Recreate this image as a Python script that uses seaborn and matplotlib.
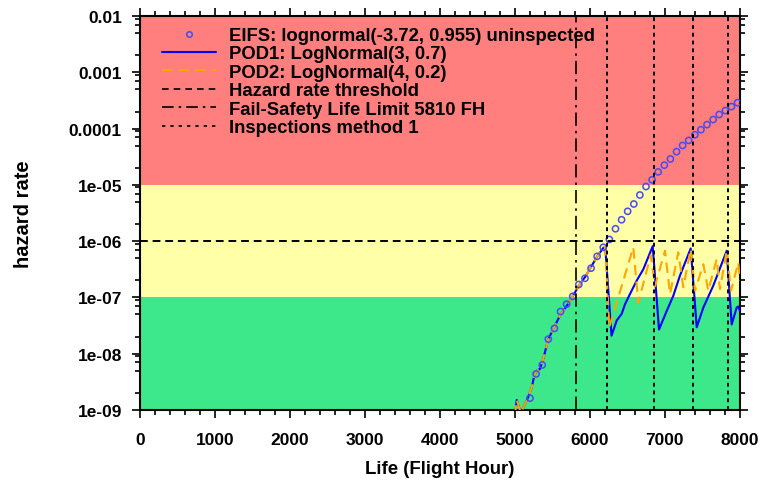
import numpy as np
import pandas as pd
import matplotlib
matplotlib.use("Agg")
import matplotlib.pyplot as plt
import seaborn as sns
from matplotlib.lines import Line2D
from matplotlib.ticker import LogLocator, FixedLocator, MultipleLocator

# ---- data ----
eifs_x = [5200, 5281, 5363, 5444, 5526, 5607, 5688, 5770, 5851, 5933, 6014, 6095, 6177,
          6258, 6340, 6421, 6502, 6584, 6665, 6747, 6828, 6909, 6991, 7072, 7154, 7235,
          7316, 7398, 7479, 7560, 7642, 7723, 7805, 7886, 7967]
eifs_log = [-8.79, -8.36, -8.20, -7.74, -7.55, -7.25, -7.12, -6.98, -6.77, -6.66, -6.48,
            -6.27, -6.11, -5.97, -5.78, -5.62, -5.47, -5.34, -5.18, -5.03, -4.91, -4.77,
            -4.65, -4.54, -4.41, -4.30, -4.21, -4.11, -4.02, -3.93, -3.84, -3.75, -3.68,
            -3.61, -3.54]

pod1_x = [5000, 5023, 5076, 5156, 5191, 5223, 5257, 5289, 5333, 5377, 5444, 5511, 5600,
          5689, 5777, 5867, 5933, 6013, 6097, 6177, 6203,
          6287, 6356, 6423, 6467, 6533, 6623, 6711, 6836,
          6920, 7023, 7111, 7200, 7343,
          7423, 7511, 7644, 7823,
          7889, 7956, 7977, 8000]
pod1_log = [-9.10, -8.82, -9.05, -8.83, -8.72, -8.60, -8.39, -8.30, -8.27, -8.09, -7.74,
            -7.56, -7.32, -7.15, -6.96, -6.76, -6.64, -6.46, -6.27, -6.12, -6.10,
            -7.68, -7.41, -7.29, -7.12, -6.94, -6.70, -6.50, -6.09,
            -7.57, -7.24, -6.97, -6.61, -6.13,
            -7.53, -7.18, -6.79, -6.17,
            -7.48, -7.18, -7.16, -7.24]

pod2_x = [5000, 5023, 5076, 5156, 5191, 5223, 5257, 5289, 5333, 5377, 5444, 5511, 5600,
          5689, 5777, 5867, 5933, 6013, 6097, 6177, 6203,
          6257, 6577, 6644, 6810, 6867, 7000, 7067, 7177, 7244, 7343, 7400, 7511, 7577,
          7689, 7733, 7823, 7880, 7977, 8000]
pod2_log = [-9.10, -8.82, -9.05, -8.83, -8.72, -8.60, -8.39, -8.30, -8.27, -8.09, -7.74,
            -7.56, -7.32, -7.15, -6.96, -6.76, -6.64, -6.46, -6.27, -6.12, -6.10,
            -7.53, -6.11, -7.09, -6.25, -6.80, -6.17, -6.94, -6.20, -6.82, -6.14, -6.88,
            -6.41, -6.88, -6.32, -6.85, -6.17, -6.88, -6.38, -6.70]

hazard_threshold = 1e-6
fail_safety_life = 5810
inspections = [6230, 6857, 7369, 7844]

zone_bounds = [1e-9, 1e-7, 1e-5, 1e-2]
zone_colors = ["#3CE88A", "#FFFFA8", "#FF7F7F"]

x_ticks = [0, 1000, 2000, 3000, 4000, 5000, 6000, 7000, 8000]
y_ticks = [1e-9, 1e-8, 1e-7, 1e-6, 1e-5, 1e-4, 1e-3, 1e-2]
y_ticklabels = ["1e-09", "1e-08", "1e-07", "1e-06", "1e-05", "0.0001", "0.001", "0.01"]

labels = ["EIFS: lognormal(-3.72, 0.955) uninspected",
          "POD1: LogNormal(3, 0.7)",
          "POD2: LogNormal(4, 0.2)",
          "Hazard rate threshold",
          "Fail-Safety Life Limit 5810 FH",
          "Inspections method 1"]

# ---- plotting ----
sns.set_theme(style="ticks")
plt.rcParams["font.family"] = ["Liberation Sans", "DejaVu Sans"]
plt.rcParams["font.weight"] = "bold"
plt.rcParams["text.color"] = "black"
plt.rcParams["axes.labelcolor"] = "black"
plt.rcParams["xtick.color"] = "black"
plt.rcParams["ytick.color"] = "black"

fig = plt.figure(figsize=(7.65, 4.81), dpi=100)
ax = fig.add_axes([140 / 765, 1 - 411 / 481, 600 / 765, 394 / 481])

for lo, hi, c in zip(zone_bounds[:-1], zone_bounds[1:], zone_colors):
    ax.axhspan(lo, hi, color=c, lw=0, zorder=0)

eifs_df = pd.DataFrame({"x": eifs_x, "y": 10.0 ** np.array(eifs_log)})
pod1_df = pd.DataFrame({"x": pod1_x, "y": 10.0 ** np.array(pod1_log)})
pod2_df = pd.DataFrame({"x": pod2_x, "y": 10.0 ** np.array(pod2_log)})

sns.lineplot(data=pod1_df, x="x", y="y", ax=ax, color="#0000FF", lw=1.5,
             sort=False, estimator=None, zorder=3)
sns.lineplot(data=pod2_df, x="x", y="y", ax=ax, color="#FFA500", lw=1.5,
             sort=False, estimator=None, zorder=4, dashes=False)
ax.lines[-1].set_dashes((5, 3))
sns.scatterplot(data=eifs_df, x="x", y="y", ax=ax, marker="o", s=20,
                facecolors="none", edgecolor="#4A4AF0", linewidth=1.1, zorder=5)

ax.axhline(hazard_threshold, color="black", lw=1.4, ls=(0, (4, 2.5)), zorder=6)
ax.axvline(fail_safety_life, color="black", lw=1.2, ls=(0, (8, 3, 1.5, 3)), zorder=6)
for t in inspections:
    ax.axvline(t, color="black", lw=1.4, ls=(0, (2, 2)), zorder=6)

ax.set_yscale("log")
ax.set_xlim(0, 8000)
ax.set_ylim(1e-9, 1e-2)
ax.xaxis.set_major_locator(FixedLocator(x_ticks))
ax.xaxis.set_minor_locator(MultipleLocator(200))
ax.yaxis.set_major_locator(FixedLocator(y_ticks))
ax.set_yticklabels(y_ticklabels)
ax.yaxis.set_minor_locator(LogLocator(base=10, subs=[2, 5, 7, 9]))
ax.yaxis.set_minor_formatter(plt.NullFormatter())
ax.set_xticklabels([str(v) for v in x_ticks])

ax.tick_params(which="both", direction="out", top=True, right=True, color="black",
               labelcolor="black", labelsize=12.5, width=1.2)
ax.tick_params(axis="y", which="both", pad=7)
ax.tick_params(axis="x", which="both", pad=10)
ax.tick_params(which="major", length=6)
ax.tick_params(which="minor", length=3.5)
for lab in ax.get_xticklabels() + ax.get_yticklabels():
    lab.set_fontweight("bold")
for s in ax.spines.values():
    s.set_color("black")
    s.set_linewidth(1.5)

ax.set_xlabel("Life (Flight Hour)", fontsize=13.4, fontweight="bold", labelpad=9,
              color="black")
ax.set_ylabel("hazard rate", fontsize=14.5, fontweight="bold", labelpad=26,
              color="black")

handles = [
    Line2D([], [], ls="none", marker="o", markersize=4, markerfacecolor="none",
           markeredgecolor="#4A4AF0", markeredgewidth=1.1),
    Line2D([], [], color="#0000FF", lw=1.5),
    Line2D([], [], color="#FFA500", lw=1.5, ls=(0, (5, 3))),
    Line2D([], [], color="black", lw=1.2, ls=(0, (4, 3))),
    Line2D([], [], color="black", lw=1.2, ls=(0, (7, 3, 1.5, 3))),
    Line2D([], [], color="black", lw=1.2, ls=(0, (2, 3))),
]
leg = ax.legend(handles, labels, loc="upper left", frameon=False,
                bbox_to_anchor=(0.0, 1.0), bbox_transform=ax.transAxes,
                handlelength=2.9, handletextpad=0.75,
                labelspacing=0.08, borderaxespad=0.0, borderpad=0.0,
                prop={"weight": "bold", "size": 13.3})
for txt in leg.get_texts():
    txt.set_color("black")
leg.set_zorder(10)
# place legend so handles start ~22 px from axes left and first row near top
fig.canvas.draw()
bb = leg.get_window_extent()
ax_bb = ax.get_window_extent()
dx = (ax_bb.x0 + 22) - bb.x0
dy = (ax_bb.y1 - 11) - bb.y1
leg.set_bbox_to_anchor((dx / ax_bb.width, 1 + dy / ax_bb.height), transform=ax.transAxes)

fig.savefig("out.png", dpi=100)
